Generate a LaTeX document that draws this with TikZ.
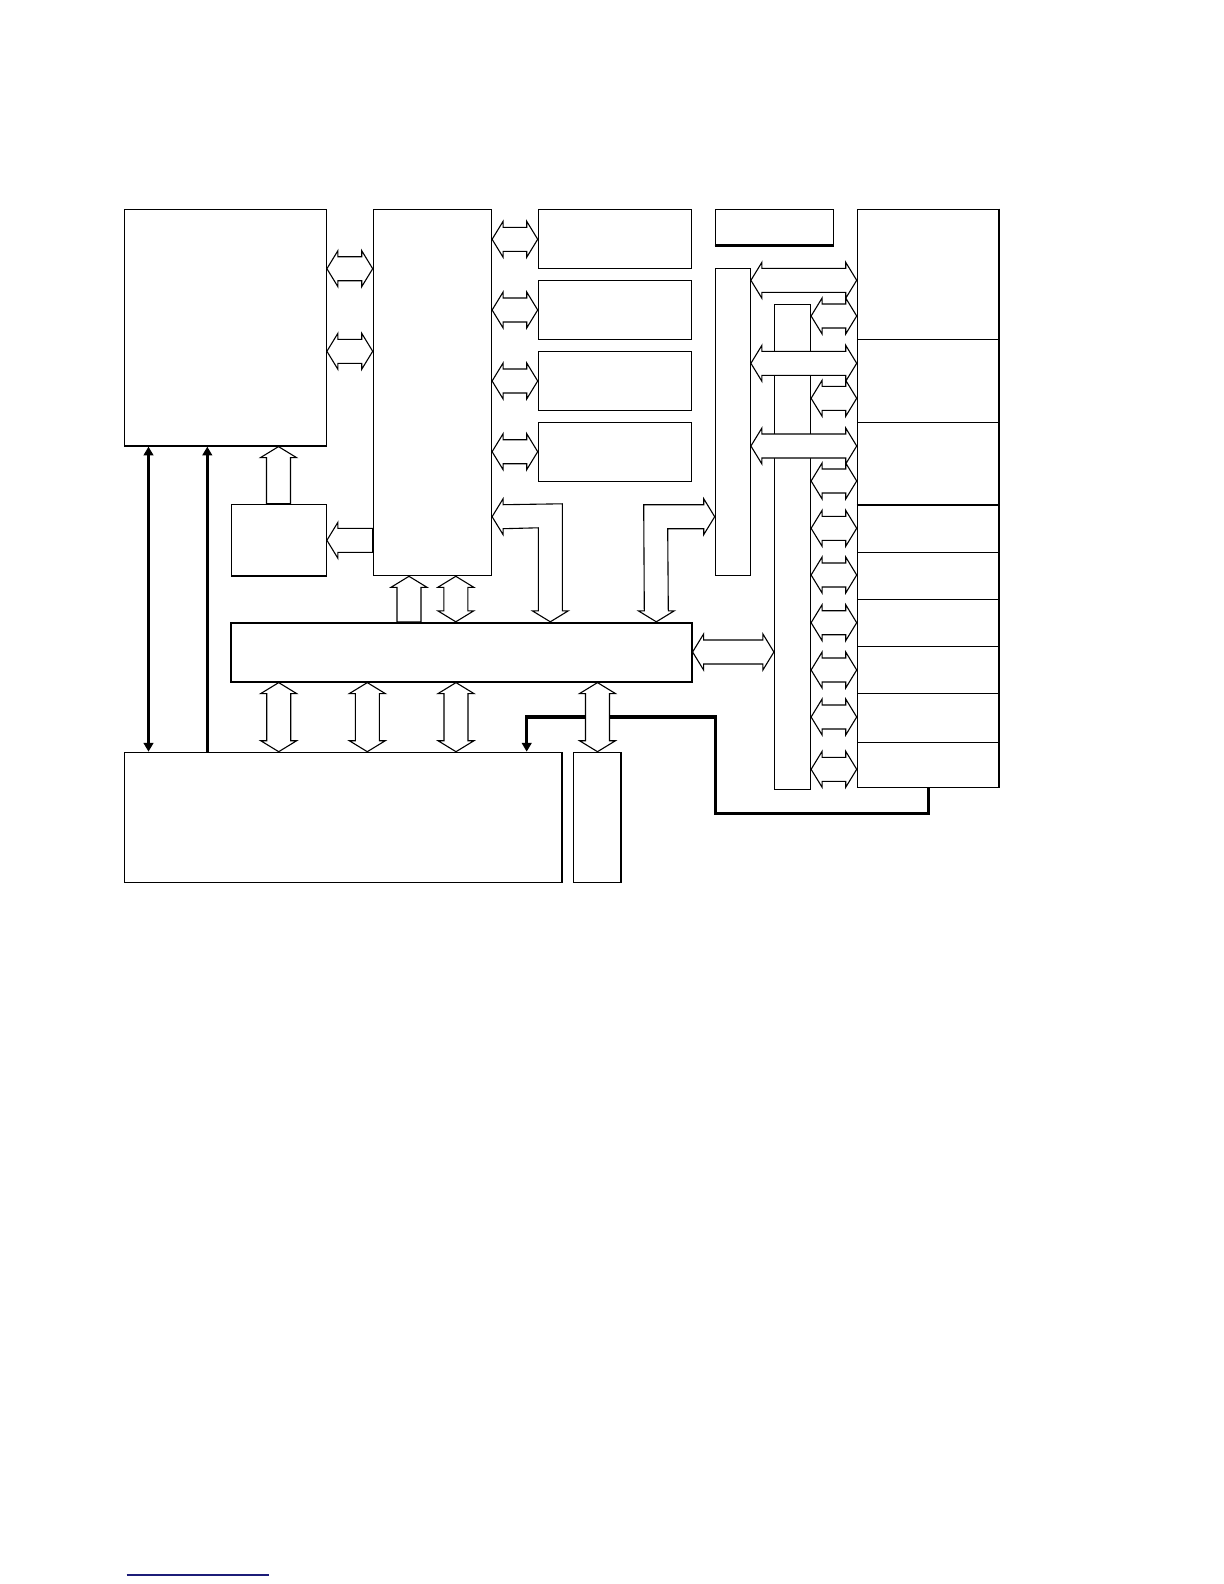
\documentclass[tikz,border=0pt]{standalone}
\usetikzlibrary{calc,fit,arrows.meta}
\definecolor{navy}{RGB}{28,28,120}
\tikzset{
  box/.style={draw, line width=0.6pt, inner sep=0pt},
  boxthick/.style={draw, line width=0.9pt, inner sep=0pt},
  edge/.style={draw, line width=0.9pt},
  hol/.style={draw, fill=white, line width=0.55pt, line join=miter},
  thk/.style={draw, line width=1.6pt, >={Triangle[width=4.8pt,length=4.4pt]}}
}
% horizontal double hollow arrow: left node, right node, y
\newcommand\HDA[3]{%
  \path (#1.east |- 0,#3) coordinate (p1) (#2.west |- 0,#3) coordinate (p2);
  \draw[hol] (p1) -- ++(11,-18) -- ++(0,6) -- ($(p2)+(-11,-12)$) -- ++(0,-6) -- (p2)
    -- ++(-11,18) -- ++(0,-6) -- ($(p1)+(11,12)$) -- ++(0,6) -- cycle;}
% horizontal single hollow arrow pointing left: tip node (left), base node (right), y
\newcommand\HLA[3]{%
  \path (#1.east |- 0,#3) coordinate (p1) (#2.west |- 0,#3) coordinate (p2);
  \draw[hol] (p1) -- ++(11,-18) -- ++(0,6) -- ($(p2)+(0,-12)$) -- ($(p2)+(0,12)$)
    -- ($(p1)+(11,12)$) -- ++(0,6) -- cycle;}
% vertical double hollow arrow: top node, bottom node, x
\newcommand\VDA[3]{%
  \path (#1.south -| #3,0) coordinate (p1) (#2.north -| #3,0) coordinate (p2);
  \draw[hol] (p1) -- ++(18,11) -- ++(-6,0) -- ($(p2)+(12,-11)$) -- ++(6,0) -- (p2)
    -- ++(-18,-11) -- ++(6,0) -- ($(p1)+(-12,11)$) -- ++(-6,0) -- cycle;}
% vertical single hollow arrow pointing up: tip node (top), base node (bottom), x
\newcommand\VUA[3]{%
  \path (#1.south -| #3,0) coordinate (p1) (#2.north -| #3,0) coordinate (p2);
  \draw[hol] (p1) -- ++(18,11) -- ++(-6,0) -- ($(p2)+(12,0)$) -- ($(p2)+(-12,0)$)
    -- ($(p1)+(-12,11)$) -- ++(-6,0) -- cycle;}
\begin{document}
\begin{tikzpicture}[x=0.5pt,y=-0.5pt]
\useasboundingbox (0,0) rectangle (1224,1584);
% boxes
\node[box, fit={(124.7,209.3) (326.3,446)}] (A) {};
\node[box, fit={(373.3,209.3) (491.5,575.7)}] (B) {};
\node[box, fit={(231.3,504.3) (326.3,576)}] (C) {};
\node[box, fit={(538.3,209.3) (691.7,268.7)}] (G1) {};
\node[box, fit={(538.3,280.3) (691.7,339.3)}] (G2) {};
\node[box, fit={(538.3,351.3) (691.7,410.3)}] (G3) {};
\node[box, fit={(538.3,422.3) (691.7,481.3)}] (G4) {};
\node[box, fit={(715.3,209.3) (833.3,245)}] (H) {};
\node[box, fit={(715.3,268.7) (750.3,575.3)}] (I) {};
\node[box, fit={(774.5,304.3) (810.5,789.3)}] (J) {};
\node[box, fit={(857.3,209.3) (999,339.3)}] (K1) {};
\node[box, fit={(857.3,339.3) (999,422.3)}] (K2) {};
\node[box, fit={(857.3,422.3) (999,504.7)}] (K3) {};
\node[box, fit={(857.3,504.7) (999,552.3)}] (K4) {};
\node[box, fit={(857.3,552.3) (999,599.3)}] (K5) {};
\node[box, fit={(857.3,599.3) (999,646.3)}] (K6) {};
\node[box, fit={(857.3,646.3) (999,693.3)}] (K7) {};
\node[box, fit={(857.3,693.3) (999,742.3)}] (K8) {};
\node[box, fit={(857.3,742.3) (999,787.3)}] (K9) {};
\node[boxthick, fit={(231.3,622.7) (691.7,681.7)}] (E) {};
\node[box, fit={(124.7,752.3) (562,882.3)}] (D) {};
\node[box, fit={(573.7,752.3) (621,882.3)}] (F) {};
% heavier edges
\draw[edge] (H.south west) -- (H.south east);
\draw[edge] (K3.south west) -- (K3.south east);
\draw[box, line width=0.75pt] (K1.north east) -- (K9.south east);
% thick control lines
\draw[thk, <->] (A.south -| 148.5,0) -- (D.north -| 148.5,0);
\draw[thk, <-] (A.south -| 207.3,0) -- (D.north -| 207.3,0);
\draw[thk, ->] (K9.south -| 928.3,0) -- (928.3,813.3) -- (715.7,813.3) -- (715.7,717)
  -- (526.7,717) -- (D.north -| 526.7,0);
% A <-> B
\HDA{A}{B}{268.7}
\HDA{A}{B}{351.3}
% B <-> G
\HDA{B}{G1}{239.3}
\HDA{B}{G2}{310}
\HDA{B}{G3}{381}
\HDA{B}{G4}{451.7}
% B -> C, C -> A
\HLA{C}{B}{540.3}
\VUA{A}{C}{278.5}
% E -> B, B <-> E
\VUA{B}{E}{409}
\VDA{B}{E}{455.8}
% E <-> D, E <-> F
\VDA{E}{D}{278.7}
\VDA{E}{D}{367.3}
\VDA{E}{D}{456}
\VDA{E}{F}{597.5}
% E <-> J
\HDA{E}{J}{652}
% L-shaped: B <-> E
\path (B.east |- 0,516.7) coordinate (l1a) (E.north -| 550.3,0) coordinate (l1b);
\draw[hol] (l1a) -- ++(11,-18) -- ++(0,6) -- ($(l1b)+(12,-118)$) -- ($(l1b)+(12,-11)$)
  -- ++(6,0) -- (l1b) -- ++(-18,-11) -- ++(6,0) -- ($(l1b)+(-12,-94)$)
  -- ($(l1a)+(11,12)$) -- ++(0,6) -- cycle;
% L-shaped: E <-> I
\path (E.north -| 656.3,0) coordinate (l2a) (I.west |- 0,516.7) coordinate (l2b);
\draw[hol] (l2a) -- ++(18,-11) -- ++(-6,0) -- ($(l2b)+(-47,12)$) -- ($(l2b)+(-11,12)$)
  -- ++(0,6) -- (l2b) -- ++(-11,-18) -- ++(0,6) -- ($(l2b)+(-71,-12)$)
  -- ($(l2a)+(-12,-11)$) -- ++(-6,0) -- cycle;
% I <-> K (wide)
\HDA{I}{K1}{280.3}
\HDA{I}{K2}{363.3}
\HDA{I}{K3}{446}
% J <-> K
\HDA{J}{K1}{316}
\HDA{J}{K2}{398.3}
\HDA{J}{K3}{481}
\HDA{J}{K4}{528.3}
\HDA{J}{K5}{575}
\HDA{J}{K6}{622.7}
\HDA{J}{K7}{670}
\HDA{J}{K8}{717}
\HDA{J}{K9}{769.3}
% footer rule
\draw[navy, line width=0.6pt] (126.7,1575) -- (269,1575);
\end{tikzpicture}
\end{document}
